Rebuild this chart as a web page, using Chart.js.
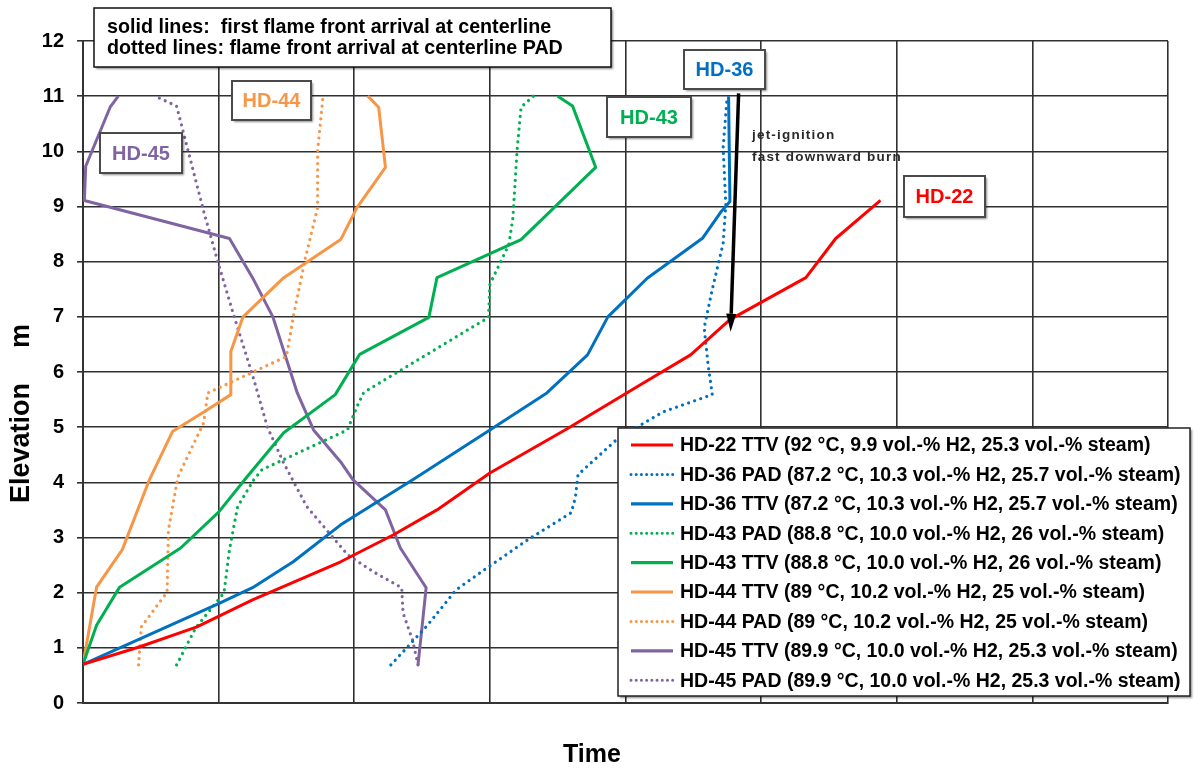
<!DOCTYPE html>
<html>
<head>
<meta charset="utf-8">
<script src="https://cdn.jsdelivr.net/npm/chart.js@4/dist/chart.umd.min.js"></script>
<style>
html,body{margin:0;padding:0;background:#fff;}
#wrap{width:1200px;height:769px;position:relative;}
</style>
</head>
<body>
<div id="wrap"><canvas id="c" width="1200" height="769"></canvas></div>
<script>
// ---------- data (time in grid units, elevation in m) ----------
const elevationTicks = [0,1,2,3,4,5,6,7,8,9,10,11,12];

const hd22TtvTime = [0, 0.42, 0.84, 1.25, 1.90, 2.29, 2.61, 3.00, 3.57, 4.11, 4.48, 4.77, 5.33, 5.55, 5.88];
const hd22TtvElev = [0.70, 1.02, 1.38, 1.87, 2.56, 3.05, 3.50, 4.17, 4.97, 5.77, 6.31, 6.95, 7.71, 8.42, 9.11];

const hd36PadTime = [2.27, 2.54, 2.75, 2.98, 3.28, 3.60, 3.63, 3.65, 3.95, 4.28, 4.64, 4.61, 4.58, 4.64, 4.72, 4.74, 4.72, 4.75];
const hd36PadElev = [0.69, 1.41, 2.05, 2.45, 2.96, 3.45, 3.72, 4.14, 4.81, 5.28, 5.59, 6.11, 6.80, 7.50, 8.33, 9.03, 10.07, 11.00];

const hd36TtvTime = [0, 1.00, 1.25, 1.55, 1.90, 2.44, 3.00, 3.42, 3.72, 3.87, 4.16, 4.57, 4.70, 4.77, 4.76];
const hd36TtvElev = [0.70, 1.80, 2.09, 2.56, 3.23, 4.06, 4.95, 5.62, 6.31, 7.00, 7.70, 8.43, 8.89, 9.09, 11.00];

const hd43PadTime = [0.69, 0.83, 1.04, 1.08, 1.14, 1.26, 1.32, 1.95, 2.02, 2.07, 2.99, 3.00, 3.14, 3.17, 3.20, 3.23, 3.32];
const hd43PadElev = [0.69, 1.36, 2.00, 2.78, 3.56, 4.05, 4.23, 4.95, 5.37, 5.63, 6.99, 7.59, 8.31, 8.80, 10.00, 10.80, 11.00];

const hd43TtvTime = [0, 0.10, 0.27, 0.72, 1.00, 1.21, 1.48, 1.86, 2.04, 2.55, 2.61, 3.23, 3.78, 3.61, 3.50];
const hd43TtvElev = [0.70, 1.41, 2.10, 2.81, 3.46, 4.10, 4.90, 5.59, 6.32, 6.99, 7.71, 8.40, 9.71, 10.82, 11.00];

const hd44TtvTime = [0, 0.10, 0.29, 0.49, 0.66, 0.92, 1.09, 1.09, 1.18, 1.48, 1.90, 2.02, 2.23, 2.18, 2.10];
const hd44TtvElev = [0.70, 2.10, 2.78, 4.05, 4.92, 5.32, 5.59, 6.37, 7.00, 7.71, 8.40, 8.98, 9.71, 10.80, 11.00];

const hd44PadTime = [0.41, 0.43, 0.62, 0.63, 0.70, 0.89, 0.92, 1.50, 1.55, 1.64, 1.73, 1.73, 1.77];
const hd44PadElev = [0.69, 1.38, 2.01, 3.14, 4.10, 5.08, 5.62, 6.28, 6.99, 8.07, 8.98, 10.00, 11.00];

const hd45TtvTime = [2.47, 2.50, 2.53, 2.34, 2.23, 1.99, 1.90, 1.70, 1.58, 1.40, 1.25, 1.08, 0.01, 0.02, 0.20, 0.26];
const hd45TtvElev = [0.69, 1.38, 2.09, 2.81, 3.50, 4.05, 4.37, 4.95, 5.62, 7.00, 7.71, 8.42, 9.11, 9.73, 10.80, 11.00];

const hd45PadTime = [2.47, 2.43, 2.36, 2.35, 2.14, 1.95, 1.65, 1.48, 1.36, 1.26, 1.11, 1.00, 0.89, 0.75, 0.69, 0.55];
const hd45PadElev = [0.69, 1.14, 1.63, 2.09, 2.38, 2.69, 3.56, 4.35, 5.00, 5.86, 7.04, 7.95, 8.91, 10.25, 10.82, 10.98];

const seriesLabels = [
  'HD-22 TTV (92 °C, 9.9 vol.-% H2, 25.3 vol.-% steam)',
  'HD-36 PAD (87.2 °C, 10.3 vol.-% H2, 25.7 vol.-% steam)',
  'HD-36 TTV (87.2 °C, 10.3 vol.-% H2, 25.7 vol.-% steam)',
  'HD-43 PAD (88.8 °C, 10.0 vol.-% H2, 26 vol.-% steam)',
  'HD-43 TTV (88.8 °C, 10.0 vol.-% H2, 26 vol.-% steam)',
  'HD-44 TTV (89 °C, 10.2 vol.-% H2, 25 vol.-% steam)',
  'HD-44 PAD (89 °C, 10.2 vol.-% H2, 25 vol.-% steam)',
  'HD-45 TTV (89.9 °C, 10.0 vol.-% H2, 25.3 vol.-% steam)',
  'HD-45 PAD (89.9 °C, 10.0 vol.-% H2, 25.3 vol.-% steam)'
];

const noteLines = ['solid lines:  first flame front arrival at centerline',
                   'dotted lines: flame front arrival at centerline PAD'];
const jetNote = ['jet-ignition', 'fast downward burn'];
const xTitle = 'Time';
const yTitleMain = 'Elevation';
const yTitleUnit = 'm';

// ---------- styling ----------
const RED = '#FF0000', BLUE = '#0070C0', GREEN = '#00B050', ORANGE = '#F79646', PURPLE = '#8064A2';
const FONT = "'Liberation Sans', Arial, sans-serif";
const GRID = '#303030';

function pts(t, e) { return t.map((v, i) => ({x: v, y: e[i]})); }
function solid(label, color, t, e) {
  return {label, data: pts(t, e), borderColor: color, backgroundColor: color, borderWidth: 3,
          showLine: true, pointRadius: 0, tension: 0, borderDash: [], borderJoinStyle: 'round', _dotted: false};
}
function dotted(label, color, t, e) {
  return {label, data: pts(t, e), borderColor: color, backgroundColor: color, borderWidth: 3.2,
          showLine: true, pointRadius: 0, tension: 0, borderDash: [0.01, 6.4], borderCapStyle: 'round', _dotted: true};
}

const datasets = [
  solid(seriesLabels[0], RED, hd22TtvTime, hd22TtvElev),
  dotted(seriesLabels[1], BLUE, hd36PadTime, hd36PadElev),
  solid(seriesLabels[2], BLUE, hd36TtvTime, hd36TtvElev),
  dotted(seriesLabels[3], GREEN, hd43PadTime, hd43PadElev),
  solid(seriesLabels[4], GREEN, hd43TtvTime, hd43TtvElev),
  solid(seriesLabels[5], ORANGE, hd44TtvTime, hd44TtvElev),
  dotted(seriesLabels[6], ORANGE, hd44PadTime, hd44PadElev),
  solid(seriesLabels[7], PURPLE, hd45TtvTime, hd45TtvElev),
  dotted(seriesLabels[8], PURPLE, hd45PadTime, hd45PadElev)
];

// label boxes: [text, color, left, top, width, height]
const tagBoxes = [
  ['HD-44', ORANGE, 232, 81, 79, 39],
  ['HD-45', PURPLE, 100, 133, 82, 40],
  ['HD-43', GREEN, 607, 97, 84, 40],
  ['HD-36', BLUE, 684, 50, 81, 39],
  ['HD-22', RED, 904, 176, 81, 41]
];

function box(ctx, x, y, w, h, stroke, lw) {
  ctx.save();
  ctx.shadowColor = 'rgba(0,0,0,0.45)';
  ctx.shadowOffsetX = 2; ctx.shadowOffsetY = 2; ctx.shadowBlur = 2;
  ctx.fillStyle = '#fff';
  ctx.fillRect(x, y, w, h);
  ctx.restore();
  ctx.save();
  ctx.strokeStyle = stroke; ctx.lineWidth = lw;
  ctx.strokeRect(x, y, w, h);
  ctx.restore();
}

const overlay = {
  id: 'overlay',
  afterDatasetsDraw(chart) {
    const ctx = chart.ctx;
    const xs = chart.scales.x, ys = chart.scales.y;

    // arrow (data coords)
    const ax1 = xs.getPixelForValue(4.834), ay1 = ys.getPixelForValue(11.05);
    const ax2 = xs.getPixelForValue(4.775), ay2 = ys.getPixelForValue(6.73);
    ctx.save();
    ctx.strokeStyle = '#000'; ctx.fillStyle = '#000'; ctx.lineWidth = 3.5;
    const ang = Math.atan2(ay2 - ay1, ax2 - ax1);
    const hl = 18, hw = 5;
    const bx = ax2 - hl * Math.cos(ang), by = ay2 - hl * Math.sin(ang);
    ctx.beginPath(); ctx.moveTo(ax1, ay1); ctx.lineTo(bx, by); ctx.stroke();
    ctx.beginPath();
    ctx.moveTo(ax2, ay2);
    ctx.lineTo(bx + hw * Math.sin(ang), by - hw * Math.cos(ang));
    ctx.lineTo(bx - hw * Math.sin(ang), by + hw * Math.cos(ang));
    ctx.closePath(); ctx.fill();
    ctx.restore();

    // jet ignition note
    ctx.save();
    ctx.fillStyle = '#2a2a2a';
    ctx.font = 'bold 13.5px ' + FONT;
    try { ctx.letterSpacing = '1.2px'; } catch (e) {}
    ctx.textAlign = 'left'; ctx.textBaseline = 'middle';
    ctx.fillText(jetNote[0], 752, 135);
    ctx.fillText(jetNote[1], 752, 157);
    ctx.restore();

    // tag boxes
    tagBoxes.forEach(([t, c, x, y, w, h]) => {
      box(ctx, x, y, w, h, '#4a4a4a', 2);
      ctx.save();
      ctx.fillStyle = c;
      ctx.font = 'bold 20px ' + FONT;
      ctx.textAlign = 'center'; ctx.textBaseline = 'middle';
      ctx.fillText(t, x + w / 2, y + h / 2 + 1);
      ctx.restore();
    });

    // note box top-left
    box(ctx, 94, 8, 517, 59, '#111', 1.5);
    ctx.save();
    ctx.fillStyle = '#000';
    ctx.font = 'bold 19.7px ' + FONT;
    ctx.textAlign = 'left'; ctx.textBaseline = 'alphabetic';
    ctx.fillText(noteLines[0], 107, 33);
    ctx.fillText(noteLines[1], 107, 54);
    ctx.restore();

    // legend box
    const lx = 618, ly = 428, lw = 572, lh = 268;
    box(ctx, lx, ly, lw, lh, '#222', 1.5);
    chart.data.datasets.forEach((ds, i) => {
      const cy = 445 + i * 29.4;
      ctx.save();
      ctx.strokeStyle = ds.borderColor;
      ctx.lineWidth = ds._dotted ? 3 : 3.2;
      if (ds._dotted) { ctx.setLineDash([0.01, 5.2]); ctx.lineCap = 'round'; }
      ctx.beginPath(); ctx.moveTo(631, cy); ctx.lineTo(673, cy); ctx.stroke();
      ctx.restore();
      ctx.save();
      ctx.fillStyle = '#000';
      ctx.font = 'bold 19.5px ' + FONT;
      ctx.textAlign = 'left'; ctx.textBaseline = 'middle';
      ctx.fillText(ds.label, 680, cy + 1);
      ctx.restore();
    });

    // axis titles
    ctx.save();
    ctx.fillStyle = '#000';
    ctx.font = 'bold 25px ' + FONT;
    ctx.textAlign = 'center'; ctx.textBaseline = 'middle';
    ctx.fillText(xTitle, 592, 755);
    ctx.translate(22, 0);
    ctx.rotate(-Math.PI / 2);
    ctx.font = 'bold 27px ' + FONT;
    ctx.fillText(yTitleMain, -443, 0);
    ctx.fillText(yTitleUnit, -336, 0);
    ctx.restore();
  }
};

new Chart(document.getElementById('c'), {
  type: 'scatter',
  data: {datasets},
  options: {
    responsive: false,
    animation: false,
    devicePixelRatio: 1,
    layout: {padding: {top: 41, right: 32, left: 0, bottom: 0}},
    plugins: {legend: {display: false}, tooltip: {enabled: false}, title: {display: false}},
    scales: {
      x: {
        type: 'linear', min: 0, max: 8,
        ticks: {display: false, stepSize: 1},
        grid: {color: GRID, lineWidth: 1.6, drawTicks: false},
        border: {color: '#333', width: 2},
        afterFit(s) { s.height = 66; }
      },
      y: {
        type: 'linear', min: 0, max: 12,
        afterBuildTicks(s) { s.ticks = elevationTicks.map(v => ({value: v})); },
        ticks: {color: '#000', font: {family: FONT, size: 20, weight: 'bold'}, padding: 13},
        grid: {color: GRID, lineWidth: 1.6, drawTicks: true, tickLength: 6},
        border: {color: '#333', width: 2},
        afterFit(s) { s.width = 83; }
      }
    }
  },
  plugins: [overlay]
});
</script>
</body>
</html>
